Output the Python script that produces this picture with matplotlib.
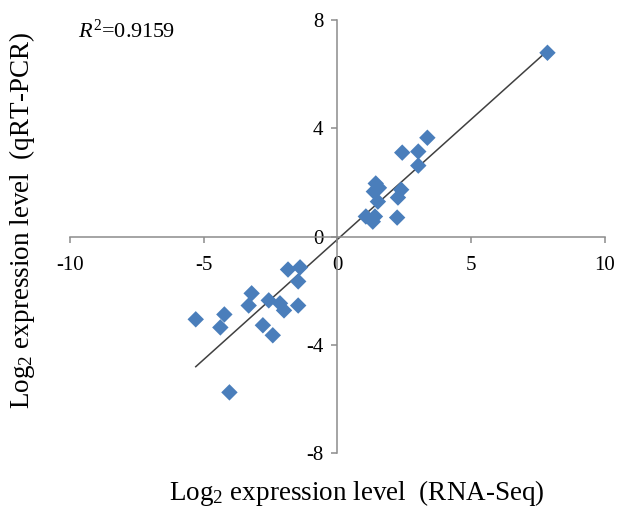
import numpy as np
import matplotlib
matplotlib.use("Agg")
import matplotlib.pyplot as plt

# Log2 fold change: RNA-Seq (x) vs qRT-PCR (y)
rnaseq = [-1.85, -1.40, -1.47, -3.21, -3.32, -2.57, -2.15, -2.00, -1.47,
          -5.30, -4.23, -4.38, -2.79, -2.42, -4.04,
          3.36, 2.42, 3.02, 3.02, 1.43, 1.36, 1.55, 2.38, 2.26, 1.51,
          1.06, 1.40, 1.32, 2.23, 7.85]
qpcr = [-1.22, -1.14, -1.66, -2.10, -2.55, -2.36, -2.47, -2.73, -2.55,
        -3.06, -2.88, -3.36, -3.28, -3.65, -5.76,
        3.65, 3.10, 3.14, 2.62, 1.96, 1.66, 1.80, 1.73, 1.44, 1.29,
        0.74, 0.74, 0.55, 0.70, 6.79]
r2_text = "0.9159"
xticks = [-10, -5, 0, 5, 10]
yticks = [-8, -4, 0, 4, 8]

plt.rcParams['font.family'] = ['Liberation Serif', 'DejaVu Serif']
plt.rcParams['axes.unicode_minus'] = False
plt.rcParams['mathtext.fontset'] = 'custom'
plt.rcParams['mathtext.rm'] = 'Liberation Serif'
plt.rcParams['mathtext.it'] = 'Liberation Serif:italic'

x = np.array(rnaseq)
y = np.array(qpcr)

fig = plt.figure(figsize=(6.17, 5.07), dpi=100)
ax = fig.add_axes([0.1135, 0.1065, 0.867, 0.854])

# linear fit line across the data range
slope, icpt = np.polyfit(x, y, 1)
xl = np.array([x.min(), x.max()])
ax.plot(xl, slope * xl + icpt, color='#404040', lw=1.1, zorder=2)

ax.scatter(x, y, marker='D', s=70, color='#4a7ebb', edgecolors='none', zorder=3)

ax.set_xlim(-10, 10)
ax.set_ylim(-8, 8)
ax.set_xticks(xticks)
ax.set_yticks(yticks)

for s in ['top', 'right']:
    ax.spines[s].set_visible(False)
ax.spines['left'].set_position(('data', 0))
ax.spines['bottom'].set_position(('data', 0))
for s in ['left', 'bottom']:
    ax.spines[s].set_color('#8c8c8c')
    ax.spines[s].set_linewidth(1.1)
ax.tick_params(direction='out', length=4, width=1.1, color='#8c8c8c',
               labelsize=15)
ax.tick_params(axis='x', pad=10)
ax.tick_params(axis='y', pad=6)

ax.text(-9.7, 7.6, r'$R^2$=' + r2_text, fontsize=16, ha='left', va='center')

fig.text(0.579, 0.028, 'Log$_2$ expression level  (RNA-Seq)', fontsize=19.5,
         ha='center', va='center')
fig.text(0.036, 0.566, 'Log$_2$ expression level  (qRT-PCR)', fontsize=19.5,
         ha='center', va='center', rotation=90)

fig.savefig('out.png', dpi=100)
